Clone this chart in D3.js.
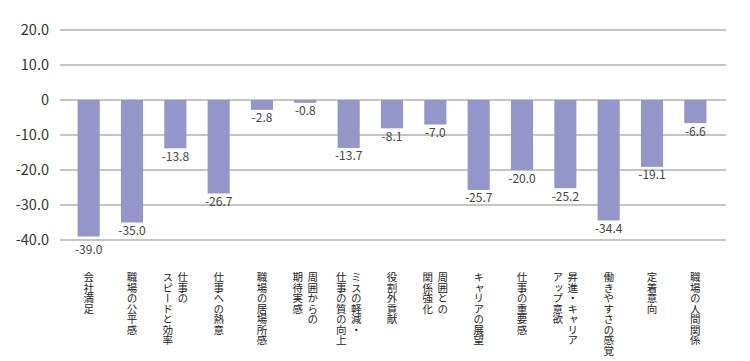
<!DOCTYPE html>
<html><head><meta charset="utf-8">
<script src="https://cdn.jsdelivr.net/npm/d3@7"></script>
<style>
html,body{margin:0;padding:0;background:#fff;}
#wrap{position:relative;width:750px;height:361px;}
svg{display:block;position:absolute;left:0;top:0;}
text{font-family:"Noto Sans CJK JP","Noto Sans",sans-serif;}
.cat{position:absolute;top:272px;writing-mode:vertical-rl;font-family:"Noto Sans CJK JP",sans-serif;
  font-size:10.5px;line-height:15px;color:#222;white-space:nowrap;transform:translateX(-50%);}
</style></head>
<body>
<div id="wrap"><svg id="chart" width="750" height="361"></svg></div>
<script>
const categories = [
  ["会社満足"],
  ["職場の公平感"],
  ["仕事の","スピードと効率"],
  ["仕事への熱意"],
  ["職場の居場所感"],
  ["周囲からの","期待実感"],
  ["ミスの軽減・","仕事の質の向上"],
  ["役割外貢献"],
  ["周囲との","関係強化"],
  ["キャリアの展望"],
  ["仕事の重要感"],
  ["昇進・キャリア","アップ意欲"],
  ["働きやすさの感覚"],
  ["定着意向"],
  ["職場の人間関係"]
];
const values = [-39.0,-35.0,-13.8,-26.7,-2.8,-0.8,-13.7,-8.1,-7.0,-25.7,-20.0,-25.2,-34.4,-19.1,-6.6];
const yTicks = [20,10,0,-10,-20,-30,-40];
const yTickLabels = ["20.0","10.0","0","-10.0","-20.0","-30.0","-40.0"];

const svg = d3.select("#chart");
const gridLeft = 60, gridRight = 726;
const y = d3.scaleLinear().domain([-40,20]).range([240,30]);
const x = d3.scaleBand().domain(d3.range(values.length)).range([67,717]).paddingInner(0.49).paddingOuter(0.245);

// gridlines
svg.append("g").selectAll("line").data(yTicks).join("line")
  .attr("x1",gridLeft).attr("x2",gridRight)
  .attr("y1",d=>y(d)).attr("y2",d=>y(d))
  .attr("stroke","#8c8c8c").attr("stroke-width",1.2);

// y labels
const yAxis = d3.axisLeft(y).tickValues(yTicks).tickSize(0).tickPadding(0)
  .tickFormat((d,i)=>yTickLabels[i]);
const ya = svg.append("g").attr("transform","translate(49,0)").call(yAxis);
ya.select(".domain").remove();
ya.selectAll("text").attr("font-size",14.5).attr("fill","#333")
  .style("font-family","'Noto Sans CJK JP',sans-serif");

// bars
svg.append("g").selectAll("rect").data(values).join("rect")
  .attr("x",(d,i)=>x(i)).attr("width",x.bandwidth())
  .attr("y",d=>y(Math.max(0,d))).attr("height",d=>Math.abs(y(d)-y(0)))
  .attr("fill","#9495c8");

// value labels
const bottomY = y(-40);
svg.append("g").selectAll("text").data(values).join("text")
  .attr("x",(d,i)=>x(i)+x.bandwidth()/2)
  .attr("y",d=>{ const ly = y(d)+12.5; return (ly-9 < bottomY+1 && ly > bottomY-1) ? bottomY+14 : ly; })
  .attr("text-anchor","middle")
  .attr("font-size",12).attr("fill","#444")
  .text(d=>d.toFixed(1));

// category labels (vertical, HTML overlay)
const wrap = d3.select("#wrap");
categories.forEach((lines,i)=>{
  const cx = x(i)+x.bandwidth()/2;
  const div = wrap.append("div").attr("class","cat").style("left",cx+"px");
  lines.forEach((t,j)=>{
    if(j>0) div.append("br");
    div.append("span").text(t);
  });
});
</script>
</body></html>
